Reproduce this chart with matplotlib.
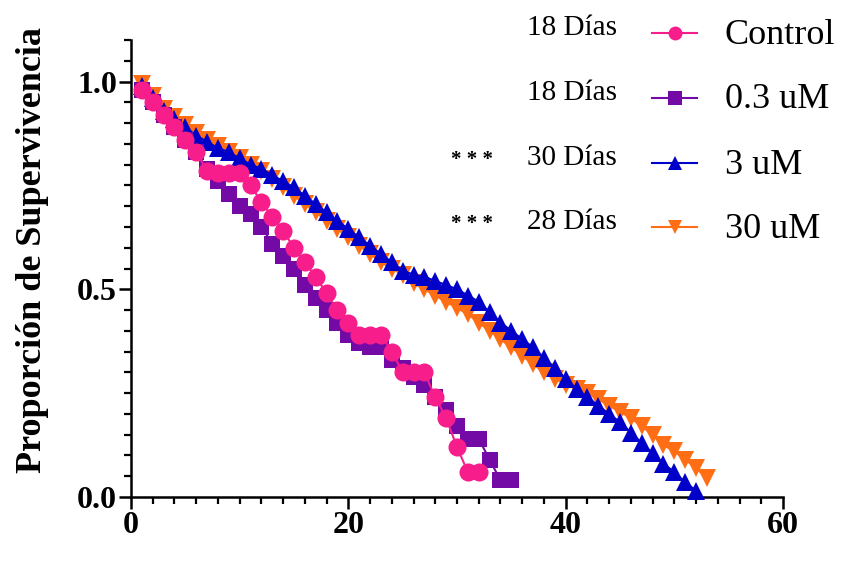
import matplotlib
matplotlib.use("Agg")
import matplotlib.pyplot as plt
from matplotlib.lines import Line2D
from matplotlib.ticker import MultipleLocator

plt.rcParams['font.family'] = ['Liberation Serif', 'DejaVu Serif']

# survival proportion per day
control_days = list(range(1, 33))
control_surv = [0.98, 0.95, 0.92, 0.89, 0.86, 0.83, 0.785, 0.78, 0.78, 0.78,
                0.75, 0.71, 0.675, 0.64, 0.60, 0.565, 0.53, 0.49, 0.45, 0.42,
                0.39, 0.39, 0.39, 0.35, 0.30, 0.30, 0.30, 0.24, 0.19, 0.12,
                0.06, 0.06]

dose03_days = list(range(1, 36))
dose03_surv = [0.98, 0.95, 0.92, 0.89, 0.86, 0.83, 0.79, 0.76, 0.73, 0.70,
               0.68, 0.65, 0.61, 0.58, 0.55, 0.51, 0.48, 0.45, 0.42, 0.39,
               0.37, 0.36, 0.36, 0.33, 0.31, 0.29, 0.27, 0.24, 0.21, 0.17,
               0.14, 0.14, 0.09, 0.04, 0.04]

dose3_days = list(range(1, 53))
dose3_surv = [0.99, 0.96, 0.93, 0.91, 0.89, 0.87, 0.855, 0.84, 0.83, 0.815,
              0.80, 0.79, 0.775, 0.76, 0.745, 0.725, 0.705, 0.685, 0.665, 0.645,
              0.625, 0.605, 0.585, 0.565, 0.545, 0.535, 0.53, 0.52, 0.51, 0.50,
              0.485, 0.47, 0.445, 0.42, 0.40, 0.38, 0.36, 0.335, 0.31, 0.285,
              0.26, 0.24, 0.22, 0.20, 0.18, 0.155, 0.13, 0.105, 0.08, 0.06,
              0.035, 0.015]

dose30_days = list(range(1, 54))
dose30_surv = [0.995, 0.965, 0.935, 0.915, 0.895, 0.875, 0.86, 0.845, 0.83, 0.815,
               0.80, 0.785, 0.765, 0.745, 0.725, 0.705, 0.685, 0.665, 0.645, 0.625,
               0.605, 0.585, 0.565, 0.55, 0.535, 0.515, 0.50, 0.485, 0.47, 0.455,
               0.44, 0.42, 0.40, 0.38, 0.36, 0.34, 0.32, 0.30, 0.285, 0.27,
               0.26, 0.25, 0.235, 0.22, 0.205, 0.19, 0.17, 0.15, 0.125, 0.11,
               0.09, 0.07, 0.045]

labels = ['Control', '0.3 uM', '3 uM', '30 uM']
medians = ['18 Días', '18 Días', '30 Días', '28 Días']
signif = ['', '', '* * *', '* * *']

colors = ['#F71E8C', '#730AA5', '#0000C8', '#FF6E14']
markers = ['o', 's', '^', 'v']
msizes = [13, 11.5, 13, 13]
leg_sizes = [10, 9.5, 10, 10]

W, H = 844, 561
fig = plt.figure(figsize=(W / 100, H / 100), dpi=100)
ax = fig.add_axes([131 / W, 1 - 497 / H, 652 / W, 457 / H])

series = [(control_days, control_surv), (dose03_days, dose03_surv),
          (dose3_days, dose3_surv), (dose30_days, dose30_surv)]
zorders = [6, 5, 4, 3]
for (x, y), c, m, ms, z in zip(series, colors, markers, msizes, zorders):
    ax.plot(x, y, color=c, marker=m, ms=ms, mec=c, mew=0, lw=1.5, zorder=z, clip_on=False)

ax.set_xlim(0, 60)
ax.set_ylim(0, 1.1)
ax.xaxis.set_major_locator(MultipleLocator(20))
ax.xaxis.set_minor_locator(MultipleLocator(2))
ax.yaxis.set_major_locator(MultipleLocator(0.5))
ax.yaxis.set_minor_locator(MultipleLocator(0.05))
ax.set_yticks([0, 0.5, 1.0])
ax.set_yticklabels(['0.0', '0.5', '1.0'])

for s in ['top', 'right']:
    ax.spines[s].set_visible(False)
for s in ['left', 'bottom']:
    ax.spines[s].set_linewidth(1.8)
ax.tick_params(which='major', length=8.5, width=1.8, labelsize=23, pad=1.5)
ax.tick_params(which='minor', length=5, width=1.6)
for lab in ax.get_xticklabels() + ax.get_yticklabels():
    lab.set_fontweight('bold')

ax.set_ylabel('Proporción de Supervivencia', fontsize=26, fontweight='bold')
ax.yaxis.set_label_coords(-0.125, 0.54)

# legend with medians, drawn by hand in pixel positions
rows = [33, 98, 163, 227]
for yy, lab, med, st, c, m, ms in zip(rows, labels, medians, signif, colors, markers, leg_sizes):
    fy = 1 - yy / H
    fig.add_artist(Line2D([652 / W, 697 / W], [fy, fy], color=c, lw=1.5,
                          transform=fig.transFigure))
    fig.add_artist(Line2D([675 / W], [fy], color=c, marker=m, ms=ms, mew=0,
                          transform=fig.transFigure))
    fig.text(725 / W, 1 - (yy + 2) / H, lab, fontsize=26, va='center', ha='left')
    fig.text(617 / W, 1 - (yy - 5) / H, med, fontsize=21, va='center', ha='right')
    if st:
        fig.text(472 / W, 1 - (yy - 3) / H, st, fontsize=15, fontweight='bold',
                 va='center', ha='center')

fig.savefig('out.png', dpi=100)
